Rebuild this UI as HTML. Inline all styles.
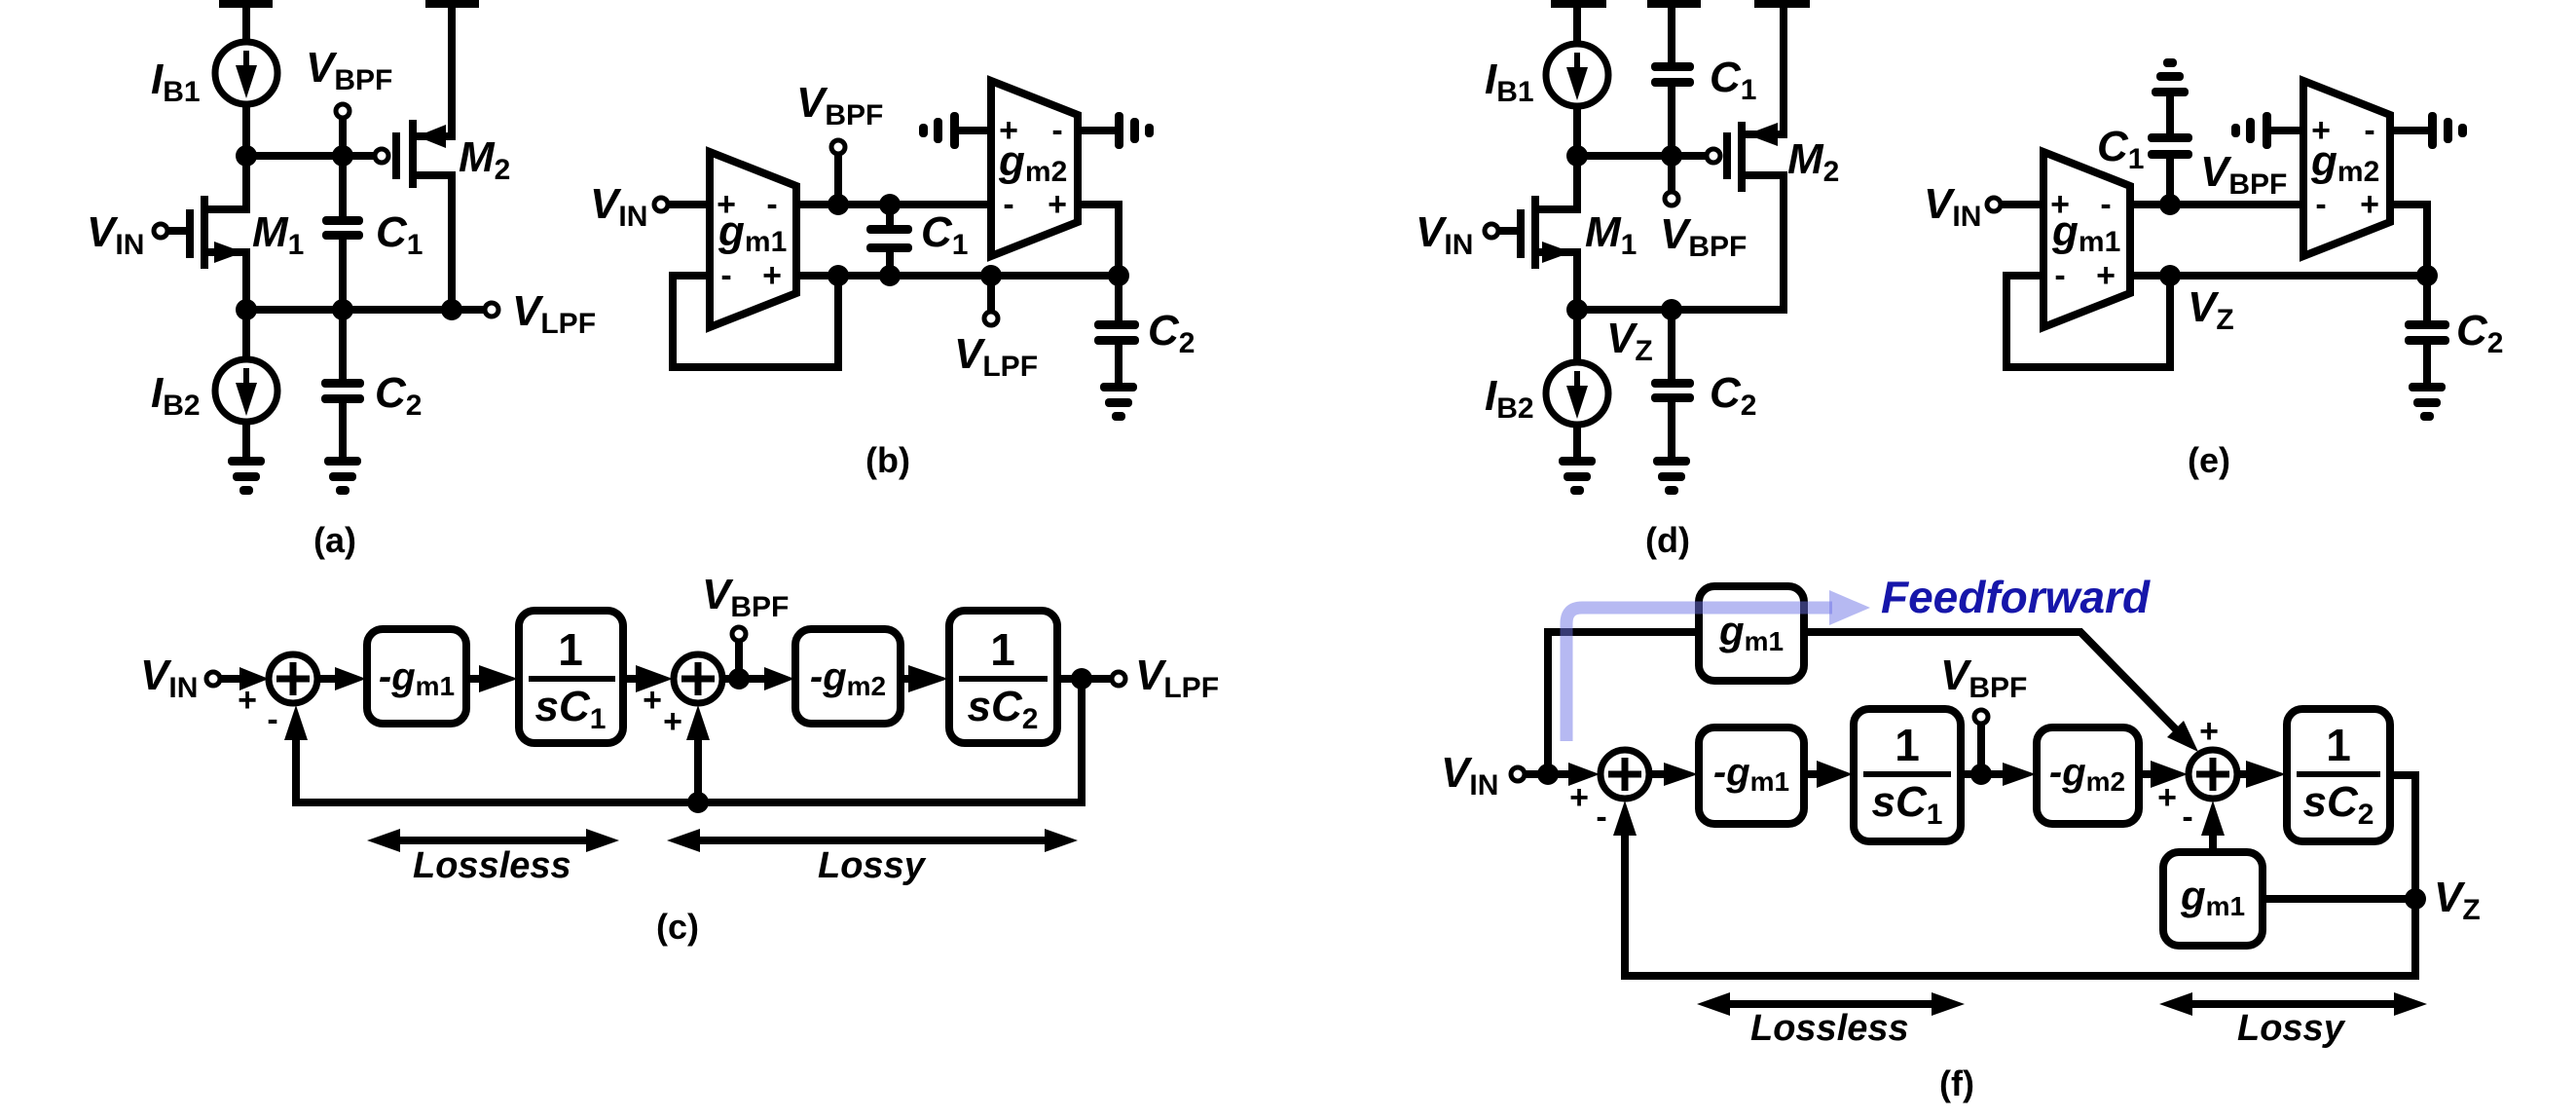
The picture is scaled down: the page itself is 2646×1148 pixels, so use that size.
<!DOCTYPE html>
<html><head><meta charset="utf-8"><style>
html,body{margin:0;padding:0;background:#fff;}
svg{display:block;}
text{font-family:"Liberation Sans",Arial,sans-serif;font-weight:bold;fill:#000;}
.v{font-size:44px;font-style:italic;}
.s{font-size:30px;font-style:normal;}
.sg{font-size:34px;text-anchor:middle;}
.lb{font-size:36px;text-anchor:middle;}
.ll{font-size:38px;font-style:italic;}
.w{fill:none;stroke:#000;stroke-width:8;}
.t{fill:#fff;stroke:#000;stroke-width:5;}
.bx{fill:#fff;stroke:#000;stroke-width:8;}
</style></head><body>
<svg width="2646" height="1148" viewBox="0 0 2646 1148" xmlns="http://www.w3.org/2000/svg">
<defs>
<g id="gnd"><rect x="-19" y="-4" width="38" height="9" rx="4"/><rect x="-14" y="12" width="28" height="9" rx="4"/><rect x="-7" y="26" width="14" height="9" rx="4"/></g>
<g id="gndup"><rect x="-19" y="-4" width="38" height="9" rx="4"/><rect x="-14" y="-20" width="28" height="9" rx="4"/><rect x="-7" y="-34" width="14" height="9" rx="4"/></g>
<g id="gl"><rect x="-4" y="-19" width="9" height="38" rx="4"/><rect x="-21" y="-13" width="9" height="26" rx="4"/><rect x="-36" y="-7" width="9" height="14" rx="4"/></g>
<g id="gr"><rect x="-4" y="-19" width="9" height="38" rx="4"/><rect x="12" y="-13" width="9" height="26" rx="4"/><rect x="27" y="-7" width="9" height="14" rx="4"/></g>
<g id="isrc"><circle r="32" fill="#fff" stroke="#000" stroke-width="7"/><path d="M0 -23V-6" stroke="#000" stroke-width="6"/><polygon points="-11,-8 11,-8 0,26"/></g>
<g id="capH"><rect x="-22" y="-4" width="44" height="9" rx="4"/><rect x="-22" y="12" width="44" height="9" rx="4"/></g>
</defs>

<!-- ===== (a) ===== -->
<rect x="225" y="0" width="55" height="8"/>
<rect x="437" y="0" width="55" height="8"/>
<path class="w" d="M253 4V45 M253 107V215H210 M210 259H253V371 M253 433V473"/>
<use href="#isrc" x="253" y="75"/>
<use href="#isrc" x="253" y="401"/>
<path class="w" d="M253 160H385 M352 121V318 M407 136V184 M424 123V193 M424 140H464V4 M424 180H464V318 M253 318H498 M352 318V473 M172 237H195 M195 215V265 M210 201V276"/>
<rect x="331" y="222" width="42" height="9" rx="4" fill="#000"/><rect x="331" y="237" width="42" height="9" rx="4" fill="#000"/>
<rect x="330" y="389" width="44" height="9" rx="4" fill="#000"/><rect x="330" y="405" width="44" height="9" rx="4" fill="#000"/>
<rect x="340" y="231" width="24" height="6" fill="#fff"/><rect x="340" y="398" width="24" height="7" fill="#fff"/>
<polygon points="428,140 458,128 458,152"/>
<polygon points="250,259 220,248 220,270"/>
<circle cx="392" cy="160" r="7" class="t"/>
<circle cx="352" cy="114" r="7" class="t"/>
<circle cx="165" cy="237" r="7" class="t"/>
<circle cx="505" cy="318" r="7" class="t"/>
<g><circle cx="253" cy="160" r="11"/><circle cx="352" cy="160" r="11"/><circle cx="253" cy="318" r="11"/><circle cx="352" cy="318" r="11"/><circle cx="464" cy="318" r="11"/></g>
<use href="#gnd" x="253" y="473"/><use href="#gnd" x="352" y="473"/>
<text class="v" x="155" y="96">I<tspan class="s" dy="8">B1</tspan></text>
<text class="v" x="314" y="84">V<tspan class="s" dy="8">BPF</tspan></text>
<text class="v" x="471" y="176">M<tspan class="s" dy="8">2</tspan></text>
<text class="v" x="259" y="253">M<tspan class="s" dy="8">1</tspan></text>
<text class="v" x="386" y="253">C<tspan class="s" dy="8">1</tspan></text>
<text class="v" x="89" y="253">V<tspan class="s" dy="8">IN</tspan></text>
<text class="v" x="526" y="334">V<tspan class="s" dy="8">LPF</tspan></text>
<text class="v" x="155" y="418">I<tspan class="s" dy="8">B2</tspan></text>
<text class="v" x="385" y="418">C<tspan class="s" dy="8">2</tspan></text>
<text class="lb" x="344" y="567">(a)</text>

<!-- ===== (b) ===== -->
<path class="w" d="M686 210H729 M818 210H1018 M861 158V210 M914 210V283 M729 283H691V377H861V283 M818 283H1149V210H1107 M1018 283V320 M980 134H1018 M1107 134H1149 M1149 283V397"/>
<polygon points="729,156 818,191 818,301 729,336" class="bx"/>
<polygon points="1018,83 1107,118 1107,228 1018,263" class="bx"/>
<rect x="890" y="231" width="47" height="9" rx="4"/><rect x="890" y="250" width="47" height="9" rx="4"/>
<rect x="905" y="240" width="18" height="10" fill="#fff"/>
<rect x="1124" y="329" width="46" height="9" rx="4"/><rect x="1124" y="345" width="46" height="9" rx="4"/>
<rect x="1140" y="338" width="18" height="7" fill="#fff"/>
<use href="#gl" x="980" y="134"/><use href="#gr" x="1149" y="134"/>
<use href="#gnd" x="1149" y="397"/>
<circle cx="679" cy="210" r="7" class="t"/><circle cx="861" cy="151" r="7" class="t"/><circle cx="1018" cy="327" r="7" class="t"/>
<g><circle cx="861" cy="210" r="11"/><circle cx="914" cy="210" r="11"/><circle cx="861" cy="283" r="11"/><circle cx="914" cy="283" r="11"/><circle cx="1018" cy="283" r="11"/><circle cx="1149" cy="283" r="11"/></g>
<text class="sg" x="746" y="221">+</text><text class="sg" x="793" y="221">-</text>
<text class="sg" x="746" y="294">-</text><text class="sg" x="793" y="294">+</text>
<text class="sg" x="1036" y="145">+</text><text class="sg" x="1086" y="145">-</text>
<text class="sg" x="1036" y="221">-</text><text class="sg" x="1086" y="221">+</text>
<text class="v" x="606" y="224">V<tspan class="s" dy="8">IN</tspan></text>
<text class="v" x="818" y="120">V<tspan class="s" dy="8">BPF</tspan></text>
<text class="v" x="738" y="252">g<tspan class="s" dy="6">m1</tspan></text>
<text class="v" x="1026" y="180">g<tspan class="s" dy="6">m2</tspan></text>
<text class="v" x="946" y="253">C<tspan class="s" dy="8">1</tspan></text>
<text class="v" x="980" y="378">V<tspan class="s" dy="8">LPF</tspan></text>
<text class="v" x="1179" y="354">C<tspan class="s" dy="8">2</tspan></text>
<text class="lb" x="912" y="485">(b)</text>

<!-- ===== (d) ===== -->
<rect x="1593" y="0" width="57" height="8"/><rect x="1692" y="0" width="55" height="8"/><rect x="1802" y="0" width="57" height="8"/>
<path class="w" d="M1620 4V45 M1620 109V215H1577 M1577 259H1620V372 M1620 436V473 M1717 4V64 M1717 88V197 M1620 160H1752 M1774 136V184 M1789 125V197 M1789 138H1832V4 M1789 180H1832V318H1620 M1717 318V389 M1717 413V473 M1539 237H1562 M1562 215V265 M1577 201V276"/>
<use href="#isrc" x="1620" y="77"/><use href="#isrc" x="1620" y="404"/>
<rect x="1696" y="64" width="44" height="9" rx="4"/><rect x="1696" y="80" width="44" height="9" rx="4"/>
<rect x="1696" y="389" width="44" height="9" rx="4"/><rect x="1696" y="404" width="44" height="9" rx="4"/>
<polygon points="1794,138 1826,126 1826,150"/>
<polygon points="1614,259 1584,248 1584,270"/>
<circle cx="1760" cy="160" r="7" class="t"/><circle cx="1717" cy="204" r="7" class="t"/><circle cx="1532" cy="237" r="7" class="t"/>
<g><circle cx="1620" cy="160" r="11"/><circle cx="1717" cy="160" r="11"/><circle cx="1620" cy="318" r="11"/><circle cx="1717" cy="318" r="11"/></g>
<use href="#gnd" x="1620" y="473"/><use href="#gnd" x="1717" y="473"/>
<text class="v" x="1525" y="96">I<tspan class="s" dy="8">B1</tspan></text>
<text class="v" x="1756" y="94">C<tspan class="s" dy="8">1</tspan></text>
<text class="v" x="1836" y="178">M<tspan class="s" dy="8">2</tspan></text>
<text class="v" x="1628" y="253">M<tspan class="s" dy="8">1</tspan></text>
<text class="v" x="1454" y="253">V<tspan class="s" dy="8">IN</tspan></text>
<text class="v" x="1705" y="255">V<tspan class="s" dy="8">BPF</tspan></text>
<text class="v" x="1650" y="362">V<tspan class="s" dy="8">Z</tspan></text>
<text class="v" x="1525" y="421">I<tspan class="s" dy="8">B2</tspan></text>
<text class="v" x="1756" y="418">C<tspan class="s" dy="8">2</tspan></text>
<text class="lb" x="1713" y="567">(d)</text>

<!-- ===== (e) ===== -->
<path class="w" d="M2055 210H2099 M2188 210H2366 M2229 210V162 M2229 137V98 M2332 134H2366 M2455 134H2498 M2455 210H2493V397 M2099 283H2061V377H2229V283 M2188 283H2493"/>
<polygon points="2099,156 2188,191 2188,301 2099,336" class="bx"/>
<polygon points="2366,83 2455,118 2455,228 2366,263" class="bx"/>
<rect x="2206" y="137" width="46" height="9" rx="4"/><rect x="2206" y="154" width="46" height="9" rx="4"/>
<rect x="2220" y="146" width="18" height="8" fill="#fff"/>
<rect x="2470" y="329" width="46" height="9" rx="4"/><rect x="2470" y="345" width="46" height="9" rx="4"/>
<rect x="2484" y="338" width="18" height="7" fill="#fff"/>
<use href="#gndup" x="2229" y="94"/>
<use href="#gl" x="2328" y="134"/><use href="#gr" x="2498" y="134"/>
<use href="#gnd" x="2493" y="397"/>
<circle cx="2048" cy="210" r="7" class="t"/>
<g><circle cx="2229" cy="210" r="11"/><circle cx="2229" cy="283" r="11"/><circle cx="2493" cy="283" r="11"/></g>
<text class="sg" x="2116" y="221">+</text><text class="sg" x="2163" y="221">-</text>
<text class="sg" x="2116" y="294">-</text><text class="sg" x="2163" y="294">+</text>
<text class="sg" x="2384" y="145">+</text><text class="sg" x="2434" y="145">-</text>
<text class="sg" x="2384" y="221">-</text><text class="sg" x="2434" y="221">+</text>
<text class="v" x="1976" y="224">V<tspan class="s" dy="8">IN</tspan></text>
<text class="v" x="2154" y="165">C<tspan class="s" dy="8">1</tspan></text>
<text class="v" x="2260" y="191">V<tspan class="s" dy="8">BPF</tspan></text>
<text class="v" x="2108" y="252">g<tspan class="s" dy="6">m1</tspan></text>
<text class="v" x="2374" y="180">g<tspan class="s" dy="6">m2</tspan></text>
<text class="v" x="2247" y="330">V<tspan class="s" dy="8">Z</tspan></text>
<text class="v" x="2523" y="354">C<tspan class="s" dy="8">2</tspan></text>
<text class="lb" x="2269" y="485">(e)</text>

<!-- ===== (c) ===== -->
<path class="w" d="M226 697H248 M326 697H346 M479 697H494 M640 697H655 M742 697H787 M759 658V697 M925 697H935 M1086 697H1142 M1111 697V824H304V758 M717 824V758"/>
<polygon points="246,685 276,697 246,709"/><polygon points="344,685 376,697 344,709"/>
<polygon points="492,683 532,697 492,711"/><polygon points="653,683 691,697 653,711"/>
<polygon points="785,685 816,697 785,709"/><polygon points="933,683 974,697 933,711"/>
<polygon points="292,760 304,724 316,760"/><polygon points="705,760 717,724 729,760"/>
<circle cx="301" cy="697" r="25" fill="#fff" stroke="#000" stroke-width="7"/>
<path d="M284 697H318 M301 680V714" stroke="#000" stroke-width="7"/>
<circle cx="717" cy="697" r="25" fill="#fff" stroke="#000" stroke-width="7"/>
<path d="M700 697H734 M717 680V714" stroke="#000" stroke-width="7"/>
<rect x="377" y="646" width="102" height="97" rx="16" class="bx"/>
<rect x="533" y="627" width="107" height="136" rx="16" class="bx"/>
<rect x="817" y="646" width="108" height="97" rx="16" class="bx"/>
<rect x="975" y="627" width="111" height="136" rx="16" class="bx"/>
<path d="M543 697H632 M985 697H1076" stroke="#000" stroke-width="6"/>
<circle cx="219" cy="697" r="7" class="t"/><circle cx="759" cy="651" r="7" class="t"/><circle cx="1149" cy="697" r="7" class="t"/>
<g><circle cx="759" cy="697" r="11"/><circle cx="1111" cy="697" r="11"/><circle cx="717" cy="824" r="11"/></g>
<text class="sg" x="254" y="730">+</text><text class="sg" x="280" y="750">-</text>
<text class="sg" x="670" y="730">+</text><text class="sg" x="691" y="752">+</text>
<text class="v" x="428" y="708" text-anchor="middle" style="font-size:40px">-g<tspan class="s" dy="6" style="font-size:28px">m1</tspan></text>
<text class="v" x="871" y="708" text-anchor="middle" style="font-size:40px">-g<tspan class="s" dy="6" style="font-size:28px">m2</tspan></text>
<text x="586" y="683" text-anchor="middle" style="font-size:46px">1</text>
<text x="586" y="740" text-anchor="middle" class="v">sC<tspan class="s" dy="8">1</tspan></text>
<text x="1030" y="683" text-anchor="middle" style="font-size:46px">1</text>
<text x="1030" y="740" text-anchor="middle" class="v">sC<tspan class="s" dy="8">2</tspan></text>
<text class="v" x="144" y="708">V<tspan class="s" dy="8">IN</tspan></text>
<text class="v" x="721" y="625">V<tspan class="s" dy="8">BPF</tspan></text>
<text class="v" x="1166" y="708">V<tspan class="s" dy="8">LPF</tspan></text>
<path class="w" d="M405 863H608 M713 863H1079"/>
<polygon points="377,863 411,851 411,875"/><polygon points="636,863 602,851 602,875"/>
<polygon points="685,863 719,851 719,875"/><polygon points="1107,863 1073,851 1073,875"/>
<text class="ll" x="424" y="901">Lossless</text>
<text class="ll" x="840" y="901">Lossy</text>
<text class="lb" x="696" y="964">(c)</text>

<!-- ===== (f) ===== -->
<path class="w" d="M1566 795H1613 M1590 795V649H1745 M1853 649H2137L2236 750 M1694 795H1711 M1853 795H1868 M2014 795H2059 M2035 743V795 M2197 795H2212 M2298 795H2311 M2455 796H2481V1002H1669V858 M2324 923H2481 M2273 875V858"/>
<polygon points="2258,772 2226,757 2243,740"/>
<polygon points="1611,783 1643,795 1611,807"/><polygon points="1709,783 1744,795 1709,807"/>
<polygon points="1866,781 1903,795 1866,809"/><polygon points="2057,783 2091,795 2057,807"/>
<polygon points="2209,781 2247,795 2209,809"/><polygon points="2307,781 2348,795 2307,809"/>
<polygon points="1657,858 1669,822 1681,858"/><polygon points="2261,858 2273,822 2285,858"/>
<circle cx="1669" cy="795" r="25" fill="#fff" stroke="#000" stroke-width="7"/>
<path d="M1652 795H1686 M1669 778V812" stroke="#000" stroke-width="7"/>
<circle cx="2273" cy="795" r="25" fill="#fff" stroke="#000" stroke-width="7"/>
<path d="M2256 795H2290 M2273 778V812" stroke="#000" stroke-width="7"/>
<rect x="1745" y="602" width="108" height="97" rx="16" class="bx"/>
<rect x="1745" y="747" width="108" height="99" rx="16" class="bx"/>
<rect x="1904" y="728" width="110" height="136" rx="16" class="bx"/>
<rect x="2092" y="747" width="105" height="99" rx="16" class="bx"/>
<rect x="2349" y="728" width="106" height="136" rx="16" class="bx"/>
<rect x="2222" y="875" width="102" height="96" rx="16" class="bx"/>
<path d="M1914 795H2004 M2359 795H2445" stroke="#000" stroke-width="6"/>
<circle cx="1559" cy="795" r="7" class="t"/><circle cx="2035" cy="736" r="7" class="t"/>
<g><circle cx="1590" cy="795" r="11"/><circle cx="2035" cy="795" r="11"/><circle cx="2481" cy="923" r="11"/></g>
<path d="M1609 761V640Q1609 624 1625 624H1882" fill="none" stroke="rgba(110,115,230,0.5)" stroke-width="13"/>
<polygon points="1879,606 1921,624 1879,642" fill="rgba(110,115,230,0.5)"/>
<text class="v" x="1932" y="629" style="fill:#1616aa;font-size:46px">Feedforward</text>
<text class="sg" x="1622" y="830">+</text><text class="sg" x="1645" y="850">-</text>
<text class="sg" x="2269" y="762">+</text>
<text class="sg" x="2226" y="830">+</text><text class="sg" x="2247" y="850">-</text>
<text class="v" x="1799" y="662" text-anchor="middle" style="font-size:42px">g<tspan class="s" dy="6" style="font-size:28px">m1</tspan></text>
<text class="v" x="1799" y="806" text-anchor="middle" style="font-size:40px">-g<tspan class="s" dy="6" style="font-size:28px">m1</tspan></text>
<text class="v" x="2144" y="806" text-anchor="middle" style="font-size:40px">-g<tspan class="s" dy="6" style="font-size:28px">m2</tspan></text>
<text class="v" x="2273" y="934" text-anchor="middle" style="font-size:42px">g<tspan class="s" dy="6" style="font-size:28px">m1</tspan></text>
<text x="1959" y="781" text-anchor="middle" style="font-size:46px">1</text>
<text x="1959" y="838" text-anchor="middle" class="v">sC<tspan class="s" dy="8">1</tspan></text>
<text x="2402" y="781" text-anchor="middle" style="font-size:46px">1</text>
<text x="2402" y="838" text-anchor="middle" class="v">sC<tspan class="s" dy="8">2</tspan></text>
<text class="v" x="1480" y="808">V<tspan class="s" dy="8">IN</tspan></text>
<text class="v" x="1993" y="708">V<tspan class="s" dy="8">BPF</tspan></text>
<text class="v" x="2500" y="936">V<tspan class="s" dy="8">Z</tspan></text>
<path class="w" d="M1771 1031H1990 M2246 1031H2465"/>
<polygon points="1743,1031 1777,1019 1777,1043"/><polygon points="2018,1031 1984,1019 1984,1043"/>
<polygon points="2218,1031 2252,1019 2252,1043"/><polygon points="2493,1031 2459,1019 2459,1043"/>
<text class="ll" x="1798" y="1068">Lossless</text>
<text class="ll" x="2298" y="1068">Lossy</text>
<text class="lb" x="2010" y="1125">(f)</text>
</svg>
</body></html>
